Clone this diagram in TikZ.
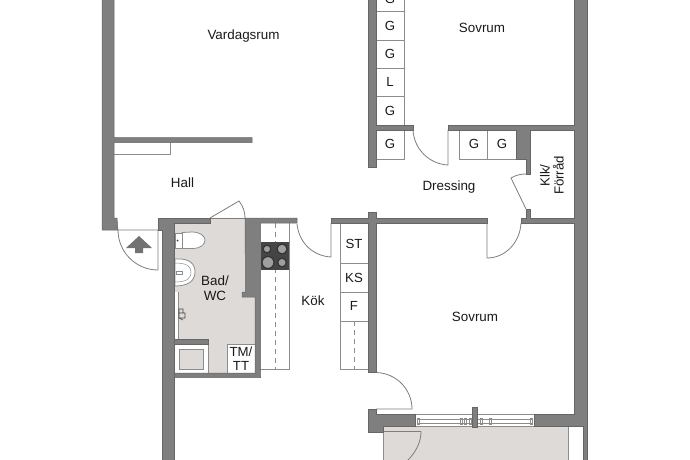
\documentclass[tikz,border=0pt]{standalone}
\usepackage{fontspec}
\setmainfont{Liberation Sans}
\definecolor{wallc}{HTML}{7F7F7F}
\definecolor{walle}{HTML}{666666}
\definecolor{floorc}{HTML}{DEDAD7}
\definecolor{linec}{HTML}{8C8C8C}
\definecolor{hobc}{HTML}{454545}
\tikzset{
  wallp/.style={fill=wallc,draw=walle,line width=0.5pt,line join=miter},
  thin line/.style={draw=linec,line width=0.8pt},
  door line/.style={draw=linec!90!black,line width=0.8pt},
  fixture/.style={draw=linec,fill=white,line width=0.8pt},
  lab/.style={font=\fontsize{13.4}{15}\selectfont,text=black!90,inner sep=0pt,align=center},
  small lab/.style={font=\fontsize{13.2}{14}\selectfont,text=black!90,inner sep=0pt,align=center},
}
\begin{document}
\begin{tikzpicture}[x=1pt,y=-1pt]
\useasboundingbox (0,0) rectangle (690,460);
\fill[white] (0,0) rectangle (690,460);
\begin{scope}
\clip (0,0) rectangle (690,460);
% floors
\fill[floorc] (174,223) -- (210,223) -- (210,218) -- (245,218) -- (245,292) -- (242,292) -- (242,297) -- (255,297) -- (255,373) -- (174,373) -- cycle;
\fill[floorc] (383,426) rectangle (568,462);
\draw[thin line] (383,426) -- (383,462) (568,426) -- (568,462);
% bathroom fixtures
\draw[fixture] (174.5,344) rectangle (208,373);
\draw[thin line,fill=floorc] (179,349) rectangle (203,369);
\draw[fixture] (227,344) rectangle (255,373);
\fill[white] (175,292) rectangle (178,339);
\draw[thin line,line width=0.5pt] (178,292) -- (178,339);
\draw[fixture] (182,232.5) -- (192,232) .. controls (200,232) and (205,236) .. (205,240) .. controls (205,245) and (200,248.5) .. (192,248.5) -- (182,248.5) -- cycle;
\draw[fixture] (175,233) rectangle (182,248);
\fill[hobc] (177.5,240.5) circle (1pt);
\draw[fixture] (175,259) .. controls (190,258) and (195,264) .. (195,272) .. controls (195,281) and (188,286) .. (175,286) -- cycle;
\draw[thin line,line width=0.5pt] (175,263) .. controls (186,263) and (191,266) .. (191,272) .. controls (191,279) and (186,282) .. (175,282);
\draw[thin line,fill=white,line width=0.5pt] (176,271) rectangle (182,274);
\draw[hobc,line width=0.6pt] (179,309) -- (183,309) -- (183,313) -- (179,313) -- cycle (179,313) -- (185,313) -- (185,318) -- (179,318) -- cycle (179,318) -- (183,320);
% kitchen counters
\draw[thin line] (289,223) -- (289,369) -- (260,369);
\draw[thin line,dashed,dash pattern=on 5pt off 4pt] (275,223) -- (275,369);
\fill[hobc] (261,242) rectangle (289,270);
\foreach \cx/\cy/\r in {267/249/3.8,282/249/5,268/262.5/6,282/262.5/4.3}{
  \draw[fill=gray!75,draw=black!80,line width=1.2pt] (\cx,\cy) circle (\r pt);
}
\draw[thin line] (340,223) rectangle (368,369);
\draw[thin line] (340,263) -- (368,263) (340,292) -- (368,292) (340,321) -- (368,321);
\draw[thin line,dashed,dash pattern=on 5pt off 4pt] (354,321) -- (354,369);
% closets
\draw[thin line] (404,-2) -- (404,125);
\draw[thin line] (376,11) -- (404,11) (376,40) -- (404,40) (376,68.5) -- (404,68.5) (376,96.5) -- (404,96.5);
\draw[thin line] (376,159) -- (404,159) -- (404,130);
\draw[thin line] (459,130) -- (459,159) -- (526,159);
\draw[thin line] (487.5,130) -- (487.5,159);
% hall shelf
\draw[thin line] (114,154) -- (170,154) -- (170,142);
% entrance arrow
\fill[wallc!90!black] (126,248) -- (139,236) -- (152,248) -- (143,248) -- (143,253) -- (135,253) -- (135,248) -- cycle;
% doors
\draw[door line] (118,230) -- (158,230) -- (158,270) arc[start angle=90,end angle=180,radius=40pt,y radius=-40pt];
\draw[door line] (210,218) -- (245,218);
\draw[door line] (210,218) -- (239,201) .. controls (243,206) and (245,212) .. (245,218);
\draw[door line] (297,224) .. controls (299,243) and (313,256) .. (331,257) -- (331,223);
\draw[door line] (413,130) .. controls (414,149) and (429,164) .. (448,165) -- (448,130);
\draw[door line] (487,223) -- (487,258) .. controls (505,258) and (520,243) .. (521,223);
\draw[door line] (526,209) -- (511,178) .. controls (516,175) and (521,174) .. (526,174);
\draw[door line] (376,372.5) .. controls (396,373) and (412,389) .. (412,409) -- (376,409);
\draw[door line] (383,431.5) -- (421,431.5) .. controls (421,442) and (416,452) .. (408,460);
% window
\draw[thin line,fill=white] (415,414) rectangle (534,426);
\draw[thin line,line width=0.5pt] (417,419) rectangle (532,423);
\foreach \wx in {417,460,464,469,480,489,530}{
  \draw[thin line,line width=0.5pt] (\wx,418) rectangle +(2.5,6);
}
% walls
\draw[wallp] (102,-3) -- (114,-3) -- (114,137.5) -- (252,137.5) -- (252,142.5) -- (114,142.5) -- (114,218) -- (117,218) -- (118,230) -- (102,230) -- cycle;
\draw[wallp] (158,218) -- (210,218) -- (210,223) -- (174.5,223) -- (174.5,462) -- (162.5,462) -- (162.5,230) -- (158,230) -- cycle;
\draw[wallp] (245,218) -- (297,218) -- (297,223) -- (260.5,223) -- (260.5,377.5) -- (174.5,377.5) -- (174.5,373) -- (255,373) -- (255,297) -- (242,297) -- (242,292) -- (245.5,292) -- cycle;
\draw[wallp] (174.5,339) rectangle (208,344);
\draw[wallp] (331,218) -- (368.5,218) -- (368.5,212) -- (376,212) -- (376,218) -- (487,218) -- (487,223) -- (376,223) -- (376,372) -- (368.5,372) -- (368.5,223) -- (331,223) -- cycle;
\draw[wallp] (368,-3) -- (376,-3) -- (376,125) -- (413,125) -- (413,130) -- (376,130) -- (376,167) -- (368,167) -- cycle;
\draw[wallp] (448,125) -- (574,125) -- (574,-3) -- (587,-3) -- (587,462) -- (583,462) -- (583,426) -- (534,426) -- (534,414) -- (574,414) -- (574,223) -- (521,223) -- (521,218) -- (526,218) -- (526,209) -- (530,209) -- (530,218) -- (574,218) -- (574,130) -- (530,130) -- (530,174) -- (526,174) -- (526,159) -- (516,159) -- (516,130) -- (448,130) -- cycle;
\draw[wallp] (368,409) -- (376,409) -- (376,414) -- (415,414) -- (415,426) -- (383,426) -- (383,432) -- (368,432) -- cycle;
\draw[wallp] (472,407) rectangle (477.5,427);
% labels
\node[lab] (vardagsrum) at (243.5,36) {Vardagsrum};
\node[lab] (sovrumA) at (482,27.5) {Sovrum};
\node[lab] (hall) at (182.5,182.5) {Hall};
\node[lab] (dressing) at (449,187.5) {Dressing};
\node[lab] (bad) at (215,288.5) {Bad/\\WC};
\node[lab] (kok) at (313,300.5) {Kök};
\node[lab] (sovrumB) at (475,317) {Sovrum};
\node[small lab,rotate=90] (klk) at (552,175.5) {Klk/\\Förråd};
\node[small lab] (tm) at (241,358.5) {TM/\\TT};
\foreach \n/\ty/\tx/\tt in {st/243.5/354/ST,ks/278/354/KS,f/306/354/F,ga/-1/390/G,gb/26/390/G,gc/54/390/G,l/82/390/L,gd/110.5/390/G,ge/144/390/G,gf/144/474/G,gg/144/502/G}{
  \node[small lab] (\n) at (\tx,\ty) {\tt};
}
\end{scope}
\end{tikzpicture}
\end{document}
